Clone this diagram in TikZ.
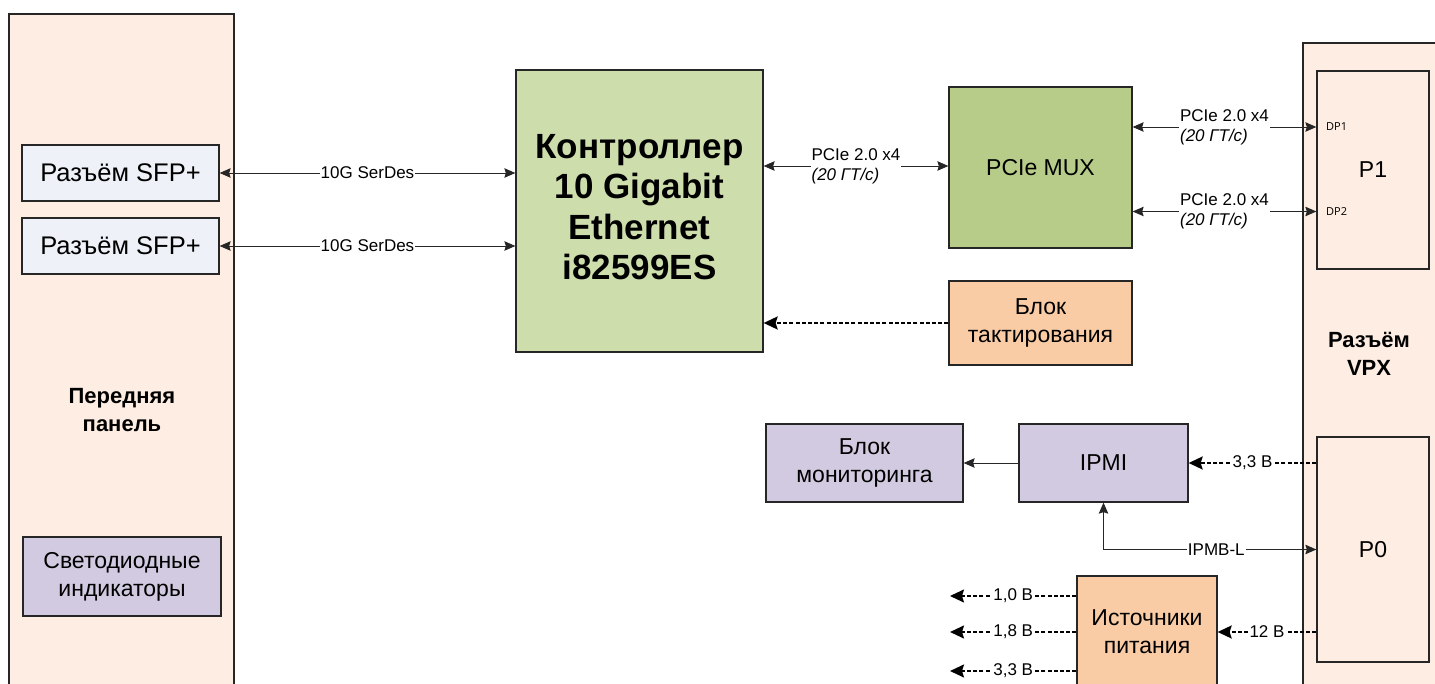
\documentclass[tikz,border=0pt]{standalone}
\usepackage{fontspec}
\setmainfont{Liberation Sans}
\newfontfamily\dpfont{Open Sans}
\usetikzlibrary{arrows.meta}
\definecolor{peach}{RGB}{253,237,226}
\definecolor{sfpc}{RGB}{238,241,247}
\definecolor{ctrlc}{RGB}{205,221,172}
\definecolor{muxc}{RGB}{182,204,136}
\definecolor{orangec}{RGB}{249,204,166}
\definecolor{lavc}{RGB}{210,202,224}
\definecolor{linec}{RGB}{38,38,38}
\tikzset{
  box/.style={draw=linec, line width=1.3pt, inner sep=2pt, align=center, font=\fontsize{23}{28}\selectfont},
  lbl/.style={fill=white, inner sep=1pt, font=\fontsize{17}{20}\selectfont},
  lbltwo/.style={fill=white, inner sep=1pt, align=left, font=\fontsize{17}{20}\selectfont},
  sarr/.style={draw=linec, line width=0.9pt, -{Stealth[length=11pt,width=9.5pt,inset=1.5pt]}},
  barr/.style={draw=linec, line width=0.9pt, {Stealth[length=11pt,width=9.5pt,inset=1.5pt]}-{Stealth[length=11pt,width=9.5pt,inset=1.5pt]}},
  darr/.style={draw=black, line width=1.9pt, dash pattern=on 4pt off 2.2pt, -{Stealth[length=14pt,width=13pt,inset=2pt]}},
  ttl/.style={align=center, font=\bfseries\fontsize{22}{28}\selectfont}
}
\begin{document}
\begin{tikzpicture}[x=1pt,y=-1pt]
\useasboundingbox (0,0) rectangle (1435,684);
\clip (0,0) rectangle (1435,684);
\fill[white] (0,0) rectangle (1435,684);
% panels
\node[box, fill=peach, minimum width=225pt, minimum height=690pt] (front) at (121.5,359) {};
\node[ttl] (fronttxt) at (122,410) {Передняя\\панель};
\node[box, fill=peach, minimum width=150pt, minimum height=670pt] (vpx) at (1378,378) {};
\node[ttl] (vpxtxt) at (1369,354) {Разъём\\VPX};
% front panel boxes
\node[box, fill=sfpc, minimum width=197pt, minimum height=56pt, font=\fontsize{25.5}{30}\selectfont] (sfp1) at (120.5,173) {Разъём SFP+};
\node[box, fill=sfpc, minimum width=197pt, minimum height=56pt, font=\fontsize{25.5}{30}\selectfont] (sfp2) at (120.5,246) {Разъём SFP+};
\node[box, fill=lavc, minimum width=198pt, minimum height=79pt] (leds) at (122,576.5) {Светодиодные\\индикаторы};
% controller
\node[box, fill=ctrlc, minimum width=247pt, minimum height=282pt] (ctrl) at (639.5,211) {};
\node[align=center, font=\bfseries\fontsize{35}{40.5}\selectfont] (ctrltxt) at (639.5,207) {Контроллер\\10 Gigabit\\Ethernet\\i82599ES};
% mux and clock
\node[box, fill=muxc, minimum width=183pt, minimum height=161pt] (mux) at (1040.5,167.5) {PCIe MUX};
\node[box, fill=orangec, minimum width=183pt, minimum height=84pt] (clk) at (1040.5,323) {Блок\\тактирования};
% VPX sub-boxes
\node[box, fill=peach, minimum width=112pt, minimum height=198pt] (pone) at (1373,170) {P1};
\node[box, fill=peach, minimum width=112pt, minimum height=225pt] (pzero) at (1373,549.5) {P0};
\node[anchor=west, inner sep=0pt, font=\dpfont\fontsize{11}{13}\selectfont] (dpone) at (1326,127) {DP1};
\node[anchor=west, inner sep=0pt, font=\dpfont\fontsize{11}{13}\selectfont] (dptwo) at (1326,211.5) {DP2};
% monitoring
\node[box, fill=lavc, minimum width=197pt, minimum height=78pt] (mon) at (864.5,463) {Блок\\мониторинга};
\node[box, fill=lavc, minimum width=169pt, minimum height=78pt] (ipmi) at (1103.5,463) {IPMI};
\node[box, fill=orangec, minimum width=140pt, minimum height=112pt] (psu) at (1147,632) {Источники\\питания};
% output coordinates
\coordinate (oa) at (950,596);
\coordinate (ob) at (950,632);
\coordinate (oc) at (950,671);
% connectors
\draw[barr] (sfp1.east) -- node[lbl] {10G SerDes} (sfp1.east -| ctrl.west);
\draw[barr] (sfp2.east) -- node[lbl] {10G SerDes} (sfp2.east -| ctrl.west);
\draw[barr] (ctrl.east |- 0,166) -- node[lbltwo] {PCIe 2.0 x4\\\textit{(20 ГТ/с)}} (mux.west |- 0,166);
\draw[barr] (mux.east |- dpone) -- node[lbltwo] {PCIe 2.0 x4\\\textit{(20 ГТ/с)}} (pone.west |- dpone);
\draw[barr] (mux.east |- dptwo) -- node[lbltwo] {PCIe 2.0 x4\\\textit{(20 ГТ/с)}} (pone.west |- dptwo);
\draw[darr] (clk.west) -- (clk.west -| ctrl.east);
\draw[sarr] (ipmi.west) -- (mon.east);
\draw[darr] (pzero.west |- ipmi.east) -- node[lbl] {3,3 В} (ipmi.east);
\draw[barr] (ipmi.south) |- node[lbl, pos=0.765] {IPMB-L} (pzero.west);
\draw[darr] (pzero.west |- psu.east) -- node[lbl] {12 В} (psu.east);
\draw[darr] (psu.west |- oa) -- node[lbl] {1,0 В} (oa);
\draw[darr] (psu.west |- ob) -- node[lbl] {1,8 В} (ob);
\draw[darr] (psu.west |- oc) -- node[lbl] {3,3 В} (oc);
\end{tikzpicture}
\end{document}
